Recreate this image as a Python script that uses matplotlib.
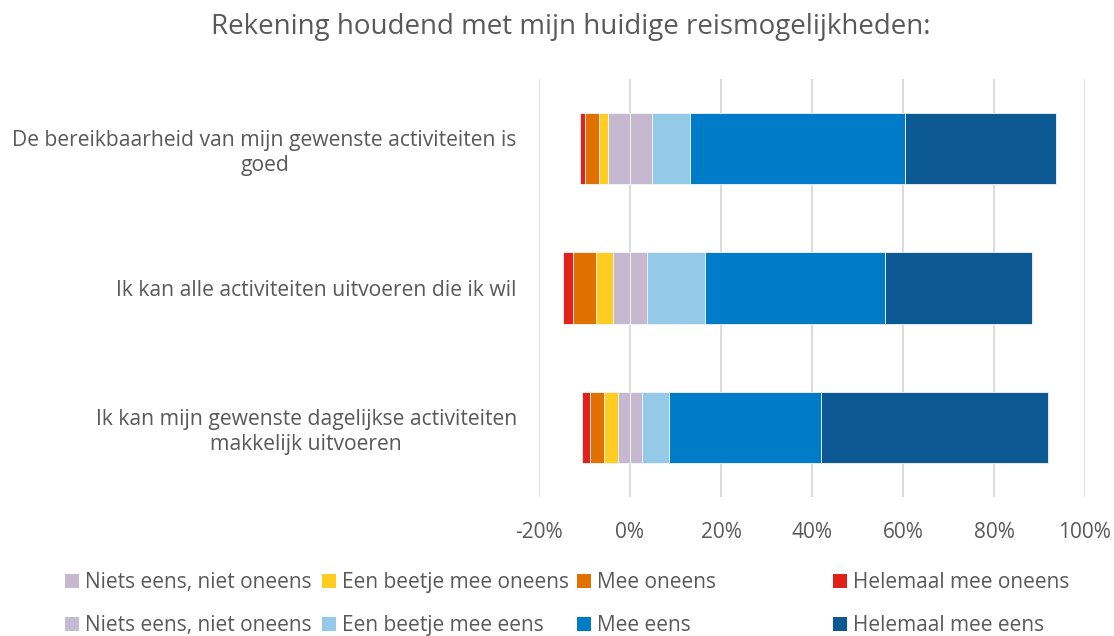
import matplotlib
matplotlib.use("Agg")
import matplotlib.pyplot as plt
from matplotlib.patches import Rectangle
import numpy as np

plt.rcParams['font.family'] = ['Open Sans', 'DejaVu Sans']

title = "Rekening houdend met mijn huidige reismogelijkheden:"
categories = [
    "De bereikbaarheid van mijn gewenste activiteiten is\ngoed",
    "Ik kan alle activiteiten uitvoeren die ik wil",
    "Ik kan mijn gewenste dagelijkse activiteiten\nmakkelijk uitvoeren",
]
# values in percent
neutraal = [4.85, 3.7, 2.65]          # shown on both sides of zero
beetje_oneens = [2.0, 3.7, 3.05]
oneens = [2.95, 5.1, 3.2]
helemaal_oneens = [1.2, 2.3, 1.6]
beetje_eens = [8.3, 12.7, 5.95]
eens = [47.2, 39.7, 33.3]
helemaal_eens = [33.3, 32.3, 49.9]

ticks = [-20, 0, 20, 40, 60, 80, 100]
tick_labels = ["-20%", "0%", "20%", "40%", "60%", "80%", "100%"]

neg_labels = ["Niets eens, niet oneens", "Een beetje mee oneens", "Mee oneens", "Helemaal mee oneens"]
pos_labels = ["Niets eens, niet oneens", "Een beetje mee eens", "Mee eens", "Helemaal mee eens"]

c_neutral = "#C6B8CF"
neg_colors = [c_neutral, "#FFCD22", "#E07000", "#E3211B"]
pos_colors = [c_neutral, "#94CAE7", "#007BC7", "#0C5893"]

text_color = "#595959"

fig = plt.figure(figsize=(11.14, 6.36), dpi=100)
ax = fig.add_axes([539/1114, 1-497/636, (1085-539)/1114, (497-79)/636])

y = np.arange(len(categories))
h = 0.51
edge = dict(edgecolor="#F2F6FA", linewidth=0.6)

neg_series = [neutraal, beetje_oneens, oneens, helemaal_oneens]
pos_series = [neutraal, beetje_eens, eens, helemaal_eens]

left = np.zeros(len(categories))
for vals, col in zip(neg_series, neg_colors):
    v = np.array(vals)
    ax.barh(y, -v, left=left, height=h, color=col, zorder=3, **edge)
    left = left - v

left = np.zeros(len(categories))
for vals, col in zip(pos_series, pos_colors):
    v = np.array(vals)
    ax.barh(y, v, left=left, height=h, color=col, zorder=3, **edge)
    left = left + v

ax.set_xlim(-20, 100)
ax.set_ylim(len(categories) - 0.5, -0.5)
ax.set_xticks(ticks)
ax.set_xticklabels(tick_labels)
ax.set_yticks(y)
ax.set_yticklabels(categories, multialignment='center', linespacing=1.25)
ax.tick_params(axis='x', length=0, pad=18, labelsize=15, labelcolor=text_color)
ax.tick_params(axis='y', length=0, pad=16, labelsize=15.2, labelcolor=text_color)
ax.grid(axis='x', color="#D9D9D9", linewidth=1.3, zorder=0)
ax.set_axisbelow(True)
for s in ax.spines.values():
    s.set_visible(False)

fig.text(571/1114, 1-27/636, title, ha='center', va='center', fontsize=20, color=text_color)

# manual legend grid (4 columns x 2 rows)
col_x = [65, 322, 577, 833]
row_base = [588, 631]
sq = 14
for row, (labels, colors) in enumerate([(neg_labels, neg_colors), (pos_labels, pos_colors)]):
    for i, (lab, col) in enumerate(zip(labels, colors)):
        x0 = col_x[i]
        yb = row_base[row]
        yc = yb - 7.5
        fig.add_artist(Rectangle(((x0) / 1114, 1 - (yc + sq/2) / 636), sq / 1114, sq / 636,
                                 transform=fig.transFigure, facecolor=col, edgecolor='none'))
        fig.text((x0 + 20) / 1114, 1 - yb / 636, lab, ha='left', va='baseline',
                 fontsize=15, color=text_color)

fig.savefig("out.png", dpi=100)
